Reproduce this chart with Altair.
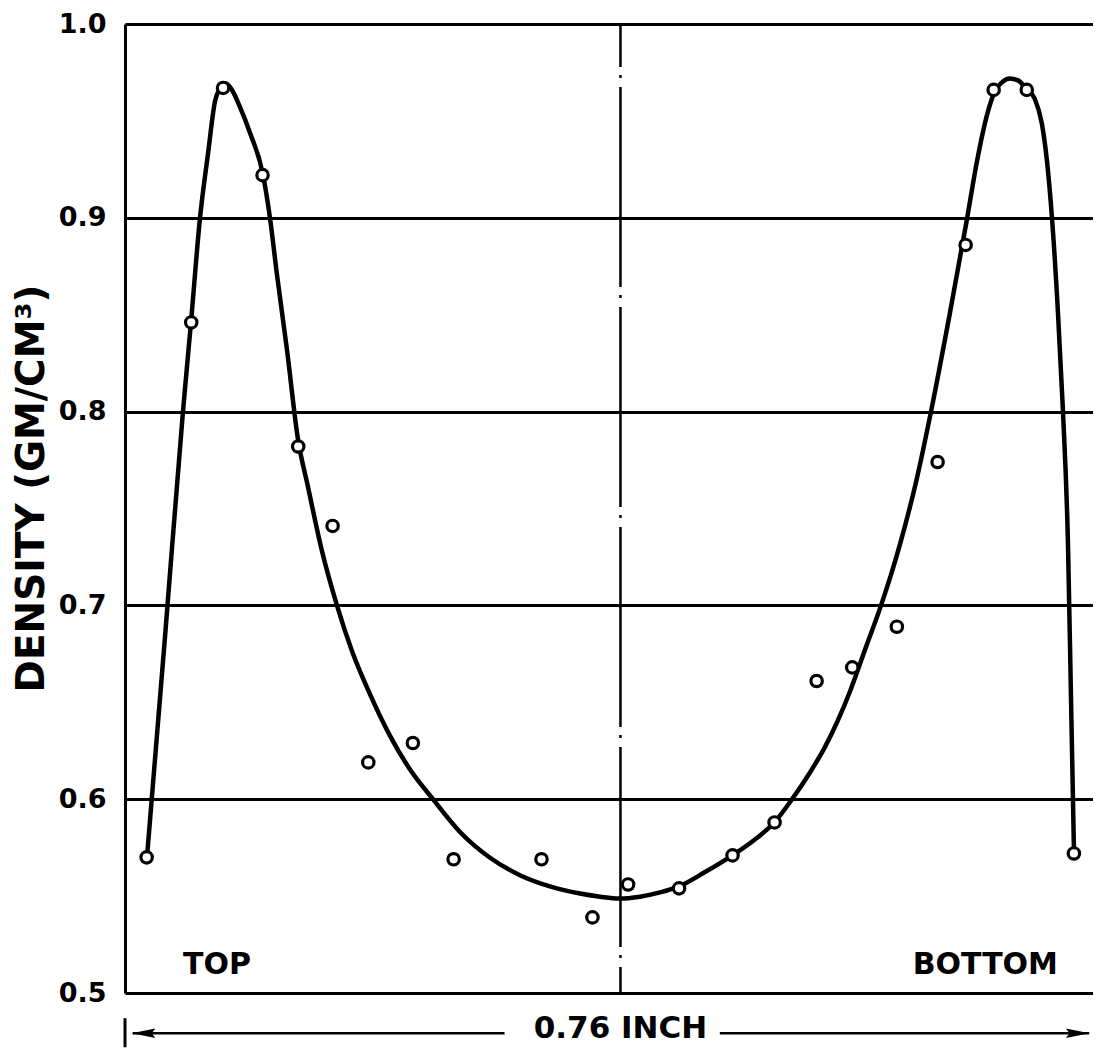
import altair as alt
import pandas as pd

# Measured points (position through sample in inches, density g/cm^3)
pt_x = [0.017, 0.052, 0.077, 0.108, 0.136, 0.163, 0.191, 0.226, 0.258, 0.327, 0.367, 0.395,
        0.435, 0.477, 0.510, 0.543, 0.571, 0.606, 0.638, 0.660, 0.682, 0.708, 0.745]
pt_y = [0.570, 0.846, 0.967, 0.922, 0.782, 0.741, 0.619, 0.629, 0.569, 0.569, 0.539, 0.556,
        0.554, 0.571, 0.588, 0.661, 0.668, 0.689, 0.774, 0.886, 0.966, 0.966, 0.572]

# Hand-drawn fitted curve
cv_x = [0.0173, 0.0314, 0.0455, 0.0518, 0.0589, 0.0652, 0.0707, 0.0746, 0.0785, 0.0832,
        0.0903, 0.0981, 0.1083, 0.1138, 0.1193, 0.1272, 0.1358, 0.1437, 0.1547,
        0.1664, 0.1782, 0.1924, 0.2081, 0.2238, 0.2418, 0.2630, 0.2866, 0.3101, 0.3337,
        0.3572, 0.3729, 0.3878, 0.4043, 0.4200, 0.4350, 0.4554, 0.4766, 0.4938, 0.5095,
        0.5237, 0.5378, 0.5496, 0.5598, 0.5692, 0.5818, 0.5936, 0.6085, 0.6218, 0.6328, 0.6477,
        0.6611, 0.6689, 0.6768, 0.6830, 0.6885, 0.6948, 0.7011, 0.7073, 0.7144, 0.7199,
        0.7239, 0.7278, 0.7325, 0.7364, 0.7404, 0.7427, 0.7451]
cv_y = [0.5704, 0.6837, 0.8000, 0.8460, 0.9000, 0.9332, 0.9602, 0.9668, 0.9694, 0.9668,
        0.9571, 0.9439, 0.9224, 0.9000, 0.8707, 0.8318, 0.7858, 0.7611, 0.7279,
        0.7000, 0.6765, 0.6541, 0.6327, 0.6153, 0.6000, 0.5831, 0.5698, 0.5608, 0.5550,
        0.5513, 0.5497, 0.5487, 0.5497, 0.5519, 0.5550, 0.5624, 0.5709, 0.5788, 0.5878,
        0.6000, 0.6138, 0.6270, 0.6408, 0.6556, 0.6786, 0.7000, 0.7316, 0.7658, 0.8000, 0.8510,
        0.8995, 0.9291, 0.9531, 0.9653, 0.9699, 0.9719, 0.9709, 0.9668, 0.9612, 0.9485,
        0.9291, 0.9000, 0.8510, 0.8005, 0.7305, 0.6531, 0.5720]

y_ticks = [0.5, 0.6, 0.7, 0.8, 0.9, 1.0]
center_x = 0.389
span_label = "0.76 INCH"
span_label_y = 0.4813
end_labels = ["TOP", "BOTTOM"]
end_label_x = [0.0455, 0.7325]
end_label_y = [0.5144, 0.5144]
arrow_y = 0.4792
arrow_left = [0.006, 0.298]
arrow_right = [0.467, 0.757]
arrow_head_x = [0.0145, 0.748]
bar_y = [0.487, 0.472]

FONT = "DejaVu Sans"

pts = pd.DataFrame({"x": pt_x, "y": pt_y})
curve = pd.DataFrame({"x": cv_x, "y": cv_y})

xs = alt.Scale(domain=[0, 0.76], nice=False, zero=False)
ys = alt.Scale(domain=[0.5, 1.0], nice=False, zero=False)


def X(f="x"):
    return alt.X(f, type="quantitative", scale=xs, axis=None)


def Y(f="y"):
    return alt.Y(f, type="quantitative", scale=ys)


y_axis = alt.Axis(values=y_ticks, format=".1f", grid=True, gridColor="black", gridWidth=3,
                  gridOpacity=1, domain=True, domainColor="black", domainWidth=3,
                  ticks=False, labelFont=FONT, labelFontSize=27, labelFontWeight="bold",
                  labelColor="black", labelPadding=19, title="DENSITY (GM/CM³)",
                  titleFont=FONT, titleFontSize=39, titleFontWeight="bold", titleColor="black",
                  titleAngle=-90, titleX=-94, titleY=464, titleAlign="center",
                  titleBaseline="middle")

line = alt.Chart(curve).mark_line(color="black", strokeWidth=4.5, interpolate="monotone").encode(
    x=X(), y=alt.Y("y:Q", scale=ys, axis=y_axis), order="x:Q")

points = alt.Chart(pts).mark_point(shape="circle", size=130, filled=True, fill="white",
                                   stroke="black", strokeWidth=3.2, opacity=1).encode(
    x=X(), y=Y())

center_df = pd.DataFrame({"x": [center_x], "y": [1.0], "y2": [0.5]})
center = alt.Chart(center_df).mark_rule(color="black", strokeWidth=2.5,
                                         strokeDash=[200, 8, 3, 9], strokeDashOffset=157).encode(
    x=X(), y=Y(), y2="y2:Q")

lab_df = pd.DataFrame({"t": end_labels, "x": end_label_x, "y": end_label_y})
top_lab = alt.Chart(lab_df.iloc[[0]]).mark_text(font=FONT, fontSize=30, fontWeight="bold",
                                                align="left", baseline="middle",
                                                color="black").encode(x=X(), y=Y(), text="t:N")
bot_lab = alt.Chart(lab_df.iloc[[1]]).mark_text(font=FONT, fontSize=30, fontWeight="bold",
                                                align="right", baseline="middle",
                                                color="black").encode(x=X(), y=Y(), text="t:N")

seg_df = pd.DataFrame({"x": [arrow_left[0], arrow_right[0]], "x2": [arrow_left[1], arrow_right[1]],
                       "y": [arrow_y, arrow_y]})
segs = alt.Chart(seg_df).mark_rule(color="black", strokeWidth=2.5, clip=False).encode(
    x=X(), x2="x2:Q", y=Y())

head_l = alt.Chart(pd.DataFrame({"x": [arrow_head_x[0]], "y": [arrow_y]})).mark_point(
    shape="M-1,0 L1,-0.4 L0.7,0 L1,0.4 Z", size=560, filled=True, color="black",
    opacity=1, clip=False).encode(x=X(), y=Y())
head_r = alt.Chart(pd.DataFrame({"x": [arrow_head_x[1]], "y": [arrow_y]})).mark_point(
    shape="M1,0 L-1,-0.4 L-0.7,0 L-1,0.4 Z", size=560, filled=True, color="black",
    opacity=1, clip=False).encode(x=X(), y=Y())

bar = alt.Chart(pd.DataFrame({"x": [0.0], "y": [bar_y[0]], "y2": [bar_y[1]]})).mark_rule(
    color="black", strokeWidth=3, clip=False).encode(x=X(), y=Y(), y2="y2:Q")

span = alt.Chart(pd.DataFrame({"t": [span_label], "x": [center_x], "y": [span_label_y]})).mark_text(
    font=FONT, fontSize=31, fontWeight="bold", align="center", baseline="middle",
    color="black", clip=False).encode(x=X(), y=Y(), text="t:N")

chart = alt.layer(line, center, points, top_lab, bot_lab, segs, head_l, head_r, bar, span).properties(
    width=968, height=969,
    autosize=alt.AutoSizeParams(type="none"),
    padding={"left": 117, "top": 16, "right": 0, "bottom": 55},
).configure_view(stroke=None).configure(background="white")

chart.save("out.html", embed_options={"renderer": "svg", "actions": False})
